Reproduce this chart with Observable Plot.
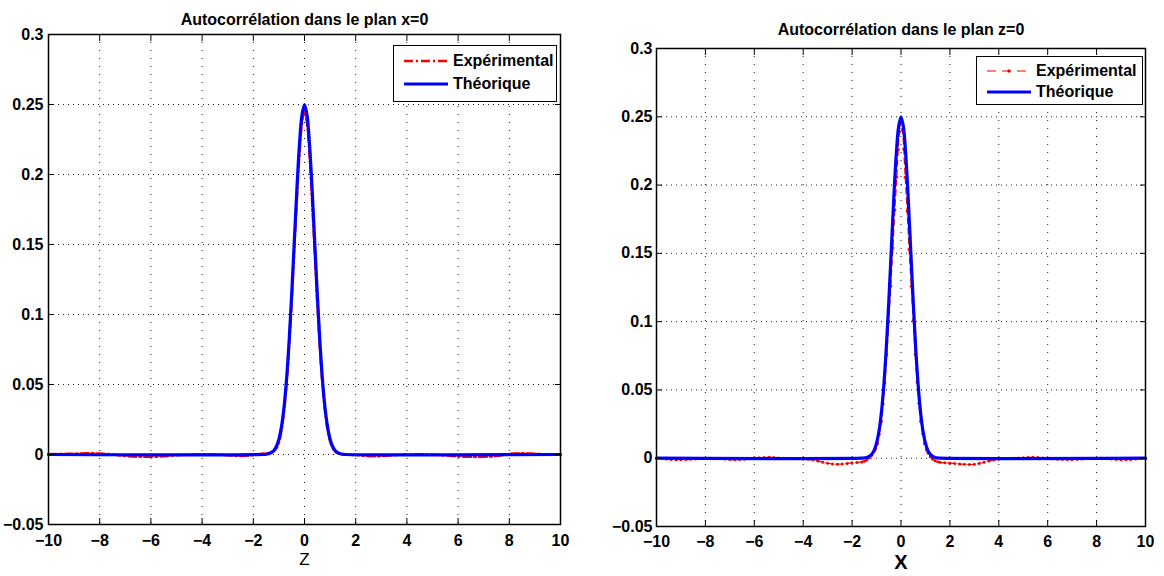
<!DOCTYPE html>
<html><head><meta charset="utf-8">
<script src="https://cdn.jsdelivr.net/npm/d3@7"></script>
<script src="https://cdn.jsdelivr.net/npm/@observablehq/plot@0.6"></script>
<style>
html,body{margin:0;padding:0;background:#fff}
#wrap{position:relative;width:1164px;height:576px;overflow:hidden;font-family:"Liberation Sans",Arial,sans-serif}
.panel{position:absolute;top:0}
.panel g.title{font-size:16px;font-weight:bold}
.panel g.zname{font-size:17px;font-weight:normal}
.panel g.xname{font-size:20px;font-weight:bold}
.panel g.ticklab text{font-size:16px !important;font-weight:bold !important}
.legend{position:absolute;box-sizing:border-box;background:#fff;border:1.5px solid #000;font:bold 16px "Liberation Sans",Arial,sans-serif;color:#000}
.legend .row{position:absolute;left:0;right:0;height:20px}
.legend .row svg{position:absolute;top:0}
.legend .row span{position:absolute;top:1px;line-height:18px;white-space:nowrap}
</style></head>
<body><div id="wrap"></div>
<script>
// ---------- data ----------
const xTicks = [-10,-8,-6,-4,-2,0,2,4,6,8,10];
const yTicks = [-0.05,0,0.05,0.1,0.15,0.2,0.25,0.3];
const titles = ["Autocorrélation dans le plan x=0","Autocorrélation dans le plan z=0"];
const axisNames = ["Z","X"];
const seriesNames = ["Expérimental","Théorique"];

// theoretical curve (both panels)
const theoX = [-10,-1.6,-1.5,-1.4,-1.3,-1.2,-1.1,-1.0,-0.9,-0.8,-0.7,-0.6,-0.5,-0.4,-0.3,-0.2,-0.1,0,
  0.1,0.2,0.3,0.4,0.5,0.6,0.7,0.8,0.9,1.0,1.1,1.2,1.3,1.4,1.5,1.6,10];
const theoY = [0,0,0.0002,0.0005,0.0013,0.0028,0.0057,0.011,0.0199,0.0338,0.0541,0.0812,0.1145,0.1516,0.1887,0.2206,0.2423,0.25,
  0.2423,0.2206,0.1887,0.1516,0.1145,0.0812,0.0541,0.0338,0.0199,0.011,0.0057,0.0028,0.0013,0.0005,0.0002,0,0];

// experimental, plane x=0 (vs Z)
const expZX = [-10,-9.5,-9,-8.5,-8,-7.5,-7,-6.5,-6,-5.5,-5,-4.5,-4,-3.5,-3,-2.5,-2,-1.6,-1.4,-1.2,-1.1,-1.0,-0.9,-0.8,-0.7,-0.6,-0.5,-0.4,-0.3,-0.2,-0.1,0,
  0.1,0.2,0.3,0.4,0.5,0.6,0.7,0.8,0.9,1.0,1.1,1.2,1.4,1.6,2,2.5,3,3.5,4,4.5,5,5.5,6,6.5,7,7.5,8,8.5,9,9.5,10];
const expZY = [0.0003,0.0004,0.0006,0.0009,0.0007,0,-0.0011,-0.0016,-0.0017,-0.0013,-0.0005,0,0.0002,0.0001,-0.0006,-0.0011,-0.0004,0.0007,0.0012,0.0024,0.0042,0.0084,0.0165,0.0305,0.0505,0.077,0.109,0.145,0.181,0.213,0.236,0.245,
  0.236,0.212,0.179,0.143,0.107,0.076,0.05,0.031,0.0175,0.0092,0.0045,0.002,0.0004,0,-0.0004,-0.0012,-0.0012,-0.0005,0,0.0002,0,-0.0007,-0.0014,-0.0017,-0.0017,-0.0012,0.0004,0.0009,0.0005,0.0001,0];

// experimental, plane z=0 (vs X)
const expXX = [-10,-9.8,-9.6,-9.4,-9.2,-9.0,-8.8,-8.6,-8.4,-8.2,-8.0,-7.8,-7.6,-7.4,-7.2,-7.0,-6.8,-6.6,-6.4,-6.2,-6.0,-5.8,-5.6,-5.4,-5.2,-5.0,-4.8,-4.6,-4.4,-4.2,-4.0,-3.8,-3.6,-3.4,-3.2,-3.0,-2.8,-2.6,-2.4,-2.2,-2.0,-1.8,-1.6,-1.5,-1.4,-1.3,-1.2,-1.1,-1.04,-0.96,-0.89,-0.8,-0.73,-0.66,-0.58,-0.5,-0.42,-0.33,-0.25,-0.17,-0.11,-0.06,0,
  0.06,0.11,0.17,0.25,0.33,0.42,0.5,0.58,0.66,0.73,0.8,0.89,0.96,1.04,1.1,1.2,1.3,1.4,1.5,1.6,1.8,2.0,2.2,2.4,2.6,2.8,3.0,3.2,3.4,3.6,3.8,4.0,4.2,4.4,4.6,4.8,5.0,5.2,5.4,5.6,5.8,6.0,6.2,6.4,6.6,6.8,7.0,7.2,7.4,7.6,7.8,8.0,8.2,8.4,8.6,8.8,9.0,9.2,9.4,9.6,9.8,10];
const expXY = [0,-0.0003,-0.0006,-0.0009,-0.0011,-0.0011,-0.001,-0.0008,-0.0005,-0.0002,0,0,-0.0001,-0.0003,-0.0006,-0.0009,-0.0011,-0.001,-0.0008,-0.0004,0,0.0003,0.0006,0.0007,0.0005,0.0002,0,-0.0001,-0.0002,-0.0003,-0.0005,-0.0008,-0.0013,-0.002,-0.0029,-0.0037,-0.0042,-0.0044,-0.0042,-0.0038,-0.0034,-0.0031,-0.0027,-0.0022,-0.0013,0.0002,0.0022,0.005,0.0068,0.0105,0.0175,0.0268,0.0398,0.0552,0.0755,0.1,0.126,0.154,0.182,0.206,0.226,0.239,0.246,
  0.24,0.2265,0.2057,0.181,0.153,0.126,0.1008,0.0759,0.0556,0.0403,0.0271,0.0179,0.0105,0.0061,0.0038,0.001,-0.0008,-0.0019,-0.0026,-0.003,-0.0033,-0.0036,-0.0039,-0.0042,-0.0045,-0.0046,-0.0044,-0.0038,-0.003,-0.0021,-0.0013,-0.0008,-0.0004,-0.0002,0,0.0001,0.0003,0.0006,0.0007,0.0005,0.0002,-0.0001,-0.0004,-0.0007,-0.0009,-0.001,-0.001,-0.0008,-0.0005,-0.0002,0,0,-0.0001,-0.0003,-0.0006,-0.0009,-0.0011,-0.0011,-0.0009,-0.0006,-0.0003,0];

// ---------- build ----------
const zip = (xs, ys) => xs.map((x, i) => ({x, y: ys[i]}));
const theo = zip(theoX, theoY);
const expZ = zip(expZX, expZY);
const expX = zip(expXX, expXY);
const fmt = d => (d < 0 ? "\u2212" : "") + String(+Math.abs(d).toFixed(2));
const RED = "#ff0000", BLUE = "#0000ff";

function panel(o) {
  const marks = [
    Plot.gridX(xTicks, {stroke: "#000", strokeOpacity: 0.9, strokeWidth: 1, strokeDasharray: "1,7"}),
    Plot.gridY(yTicks, {stroke: "#000", strokeOpacity: 0.9, strokeWidth: 1, strokeDasharray: "1,4"}),
    ...o.expMarks,
    Plot.line(theo, {x: "x", y: "y", stroke: BLUE, strokeWidth: 3.2, curve: "catmull-rom"}),
    Plot.frame({stroke: "#000", strokeWidth: 1.5}),
    Plot.axisX(xTicks, {anchor: "bottom", tickSize: -6, tickPadding: o.xPad, tickFormat: fmt, fontSize: 16, fontWeight: "bold", className: "ticklab"}),
    Plot.axisX(xTicks, {anchor: "top", tickSize: -6, tickFormat: () => ""}),
    Plot.axisY(yTicks, {anchor: "left", tickSize: -6, tickPadding: o.yPad, tickFormat: fmt, fontSize: 16, fontWeight: "bold", className: "ticklab"}),
    Plot.axisY(yTicks, {anchor: "right", tickSize: -6, tickFormat: () => ""}),
    Plot.text([o.title], {text: d => d, frameAnchor: "top", dy: o.titleDy, fill: "#000", className: "title"}),
    Plot.text([o.xlabel], {text: d => d, frameAnchor: "bottom", dy: o.xlabelDy, fill: "#000", className: o.xlabelClass})
  ];
  const svg = Plot.plot({
    width: 582, height: 576,
    marginLeft: o.ml, marginRight: o.mr, marginTop: o.mt, marginBottom: o.mb,
    x: {domain: [-10, 10], label: null},
    y: {domain: [-0.05, 0.3], label: null},
    style: {fontFamily: "'Liberation Sans', Arial, sans-serif", background: "transparent", overflow: "visible", color: "#000"},
    marks
  });
  svg.classList.add("panel");
  svg.style.left = o.left + "px";
  return svg;
}

const wrap = document.getElementById("wrap");
wrap.appendChild(panel({
  left: 0, ml: 48, mr: 22, mt: 34, mb: 52, xPad: 16, yPad: 11,
  title: titles[0], titleDy: -21, xlabel: axisNames[0], xlabelDy: 40, xlabelClass: "zname",
  expMarks: [Plot.line(expZ, {x: "x", y: "y", stroke: RED, strokeWidth: 2.4, strokeDasharray: "8,3,2,3", curve: "catmull-rom"})]
}));
wrap.appendChild(panel({
  left: 582, ml: 74, mr: 19, mt: 48, mb: 50, xPad: 15, yPad: 10,
  title: titles[1], titleDy: -25, xlabel: axisNames[1], xlabelDy: 42, xlabelClass: "xname",
  expMarks: [
    Plot.line(expX, {x: "x", y: "y", stroke: RED, strokeWidth: 1.2, strokeDasharray: "6,4", curve: "catmull-rom"}),
    Plot.dot(expX, {x: "x", y: "y", r: 1.5, fill: RED, stroke: "none"})
  ]
}));

// ---------- legends ----------
function legend(left, top, w, h, rowTops, sampleX, textX, expSample) {
  const div = document.createElement("div");
  div.className = "legend";
  Object.assign(div.style, {left: left + "px", top: top + "px", width: w + "px", height: h + "px"});
  const samples = [expSample, `<line x1="0" x2="44" y1="10" y2="10" stroke="${BLUE}" stroke-width="3.2"/>`];
  seriesNames.forEach((name, i) => {
    const row = document.createElement("div");
    row.className = "row";
    row.style.top = rowTops[i] + "px";
    row.innerHTML = `<svg width="44" height="20" style="left:${sampleX}px">${samples[i]}</svg><span style="left:${textX}px">${name}</span>`;
    div.appendChild(row);
  });
  wrap.appendChild(div);
}
legend(393, 45, 164, 57, [5, 28], 10, 59,
  `<line x1="0" x2="44" y1="10" y2="10" stroke="${RED}" stroke-width="2.4" stroke-dasharray="9,3,2,3"/>`);
legend(976, 56, 167, 49, [4, 25], 10, 59,
  `<line x1="0" x2="44" y1="10" y2="10" stroke="${RED}" stroke-width="1.2" stroke-dasharray="9,6"/><circle cx="22" cy="10" r="1.7" fill="${RED}"/>`);
</script></body></html>
